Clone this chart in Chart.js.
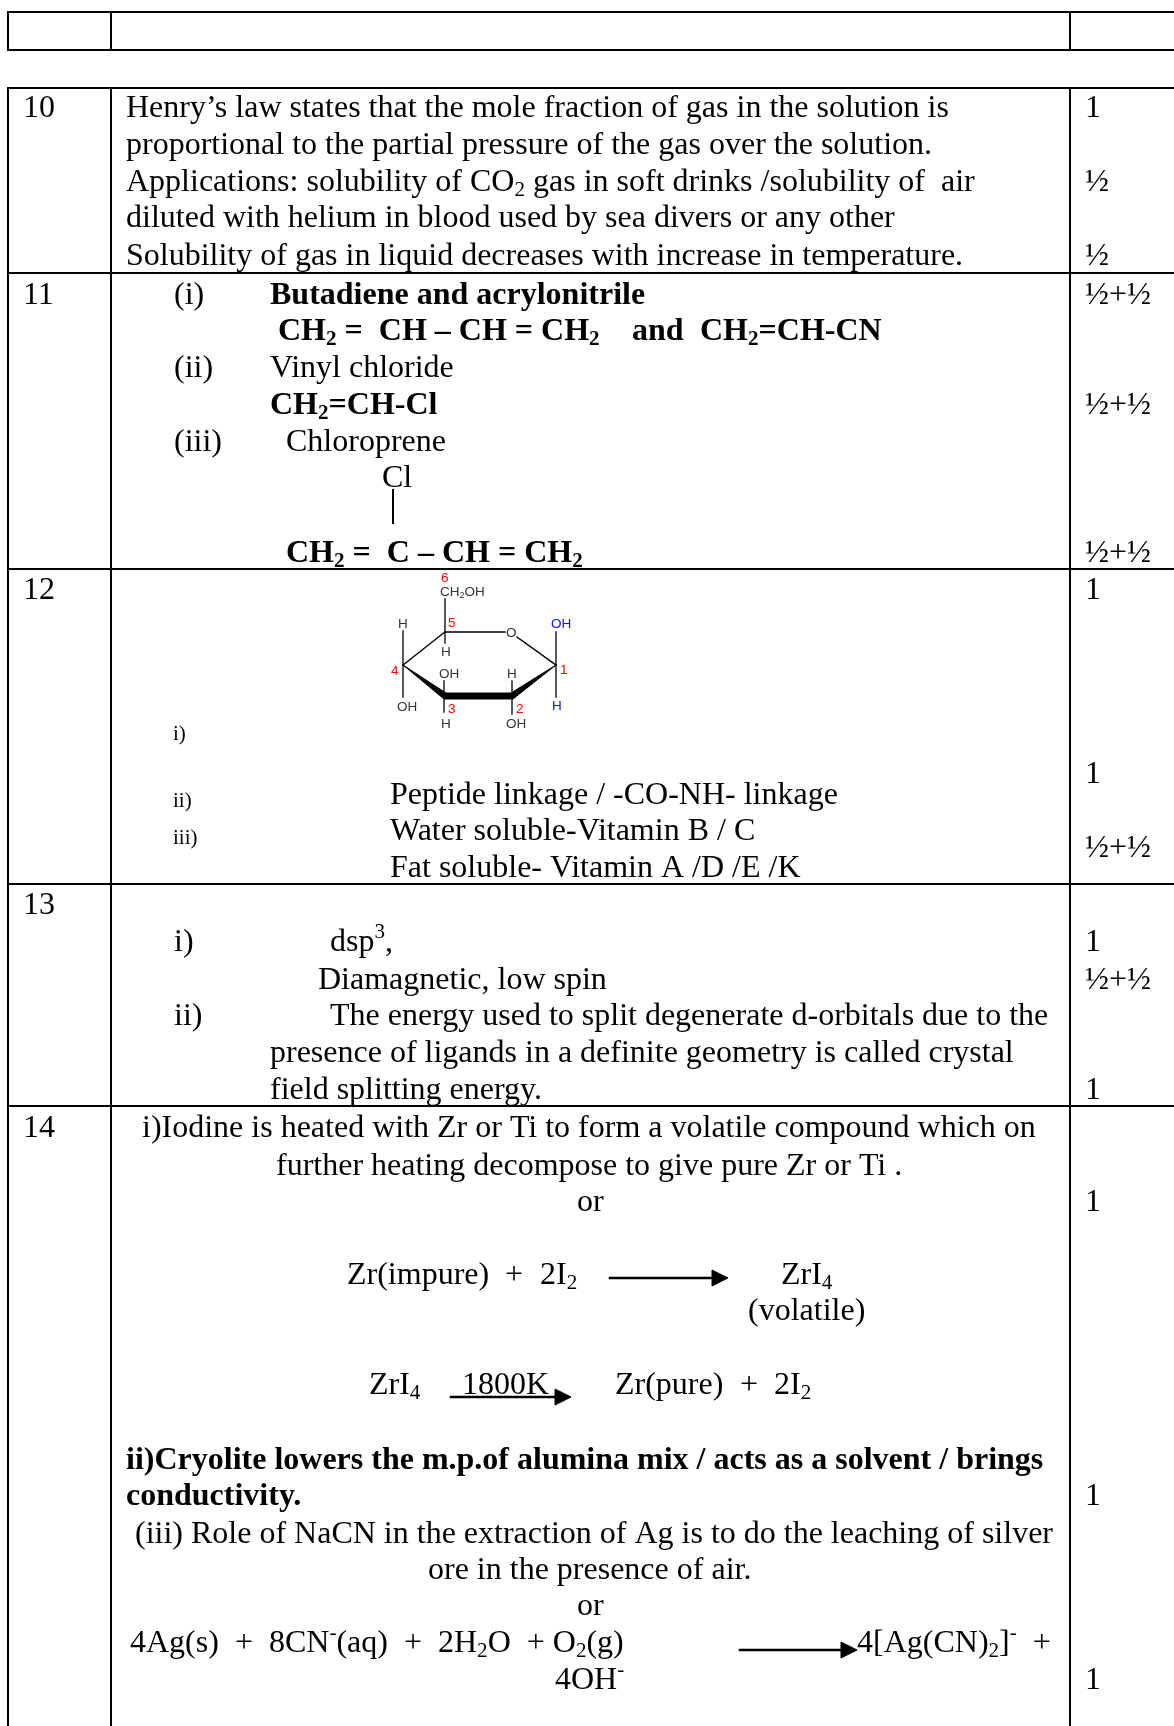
<!DOCTYPE html>
<html>
<head>
<meta charset="utf-8">
<title>Marking scheme page</title>
<script src="https://cdn.jsdelivr.net/npm/chart.js@4/dist/chart.umd.min.js"></script>
<style>
html, body { margin: 0; padding: 0; background: #fff; }
canvas { display: block; }
</style>
</head>
<body>
<canvas id="page" width="1174" height="1726"></canvas>
<script>
// the "axes" are just the page itself, 0-1174 across and 0-1726 down
const pageW = 1174;
const pageH = 1726;

// table rules: [x1, y1, x2, y2]
const ruleX1 = [8, 8, 8, 111, 1070, 8, 8, 8, 111, 1070, 8, 8, 8];
const ruleY1 = [12, 50, 12, 12, 12, 88, 273, 88, 88, 88, 569, 884, 1106];
const ruleX2 = [1174, 1174, 8, 111, 1070, 1174, 1174, 8, 111, 1070, 1174, 1174, 1174];
const ruleY2 = [12, 50, 50, 50, 50, 88, 273, 1726, 1726, 1726, 569, 884, 1106];

// regular text
const plainText = [
  "10", "Henry’s law states that the mole fraction of gas in the solution is",
  "proportional to the partial pressure of the gas over the solution.",
  "Applications: solubility of CO_{2} gas in soft drinks /solubility of  air",
  "diluted with helium in blood used by sea divers or any other",
  "Solubility of gas in liquid decreases with increase in temperature.",
  "1", "½", "½",
  "11", "(i)", "(ii)", "Vinyl chloride", "(iii)", "Chloroprene", "Cl", "½+½", "½+½", "½+½",
  "12", "1", "Peptide linkage / -CO-NH- linkage", "Water soluble-Vitamin B / C",
  "Fat soluble- Vitamin A /D /E /K", "1", "½+½",
  "13", "i)", "dsp^{3},", "Diamagnetic, low spin", "ii)",
  "The energy used to split degenerate d-orbitals due to the",
  "presence of ligands in a definite geometry is called crystal",
  "field splitting energy.", "1", "½+½", "1",
  "14", "i)Iodine is heated with Zr or Ti to form a volatile compound which on",
  "further heating decompose to give pure Zr or Ti .", "or", "1",
  "Zr(impure)", "+", "2I_{2}", "ZrI_{4}", "(volatile)",
  "ZrI_{4}", "1800K", "Zr(pure)", "+", "2I_{2}",
  "(iii) Role of NaCN in the extraction of Ag is to do the leaching of silver",
  "ore in the presence of air.", "or",
  "4Ag(s)  +  8CN^{-}(aq)  +  2H_{2}O  + O_{2}(g)", "4[Ag(CN)_{2}]^{-}  +", "4OH^{-}", "1", "1"
];
const plainX = [
  23, 126, 126, 126, 126, 126,
  1085, 1085, 1085,
  23, 174, 174, 270, 174, 286, 382, 1085, 1085, 1085,
  23, 1085, 390, 390, 390, 1085, 1085,
  23, 174, 330, 318, 174, 330, 270, 270, 1085, 1085, 1085,
  23, 142, 276, 577, 1085,
  347, 505, 540, 781, 748,
  369, 462, 615, 740, 774,
  135, 428, 577,
  130, 857, 555, 1085, 1085
];
const plainY = [
  117, 117, 154, 191, 227, 265,
  117, 191, 265,
  304, 304, 377, 377, 451, 451, 487, 304, 414, 562,
  599, 599, 804, 840, 877, 783, 857,
  914, 951, 951, 989, 1025, 1025, 1062, 1099, 951, 989, 1099,
  1137, 1137, 1175, 1211, 1211,
  1284, 1284, 1284, 1284, 1320,
  1394, 1394, 1394, 1394, 1394,
  1543, 1579, 1615,
  1652, 1652, 1689, 1505, 1689
];

// bold text
const boldText = [
  "Butadiene and acrylonitrile", "CH_{2} =  CH – CH = CH_{2}", "and", "CH_{2}=CH-CN",
  "CH_{2}=CH-Cl", "CH_{2} =  C – CH = CH_{2}",
  "ii)Cryolite lowers the m.p.of alumina mix / acts as a solvent / brings", "conductivity."
];
const boldX = [270, 278, 632, 700, 270, 286, 126, 126];
const boldY = [304, 340, 340, 340, 414, 562, 1469, 1505];

// the small row markers next to the sugar ring
const smallText = ["i)", "ii)", "iii)"];
const smallX = [173, 173, 173];
const smallY = [740, 807, 844];

// sugar ring labels
const ringGrey = ["CH_{2}OH", "H", "O", "H", "OH", "H", "OH", "H", "OH"];
const ringGreyX = [440, 398, 506, 441, 439, 507, 397, 441, 506];
const ringGreyY = [596, 628, 637, 656, 678, 678, 711, 728, 728];
const ringRed = ["6", "5", "4", "1", "3", "2"];
const ringRedX = [441, 448, 391, 560, 448, 516];
const ringRedY = [582, 627, 675, 674, 713, 713];
const ringBlue = ["OH", "H"];
const ringBlueX = [551, 552];
const ringBlueY = [628, 710];

// ring bonds
const bondX1 = [445, 445, 403, 445, 517, 445, 403, 403, 444, 444, 512, 512, 556, 556];
const bondY1 = [632, 599, 665, 632, 637, 632, 665, 665, 696, 696, 696, 696, 665, 665];
const bondX2 = [445, 445, 445, 505, 556, 445, 403, 403, 444, 444, 512, 512, 556, 556];
const bondY2 = [632, 632, 632, 632, 665, 643, 631, 697, 681, 712, 681, 714, 632, 697];

// front edge of the ring, the thick wedge
const wedgeX = [403, 446, 511, 556, 513, 444];
const wedgeY = [665, 693, 693, 665, 699, 699];

// stem of the Cl branch
const stemX = [393, 393];
const stemY = [490, 523];

// reaction arrows: shaft start, shaft end, head base, height
const arrowFrom = [610, 451, 740];
const arrowTo = [728, 571, 857];
const arrowBase = [712, 555, 841];
const arrowLevel = [1278, 1397, 1650];

function pts(xs, ys) {
  return xs.map(function (x, i) { return { x: x, y: ys[i] }; });
}

function lineSet(points, width) {
  return {
    data: points, showLine: true, pointRadius: 0, borderColor: '#000',
    borderWidth: width, tension: 0, fill: false, borderCapStyle: 'square'
  };
}

function shapeSet(points) {
  return {
    data: points.concat(points[0]), showLine: true, pointRadius: 0, borderColor: '#000',
    backgroundColor: '#000', borderWidth: 1, tension: 0, fill: 'shape'
  };
}

var datasets = [];
ruleX1.forEach(function (x, i) {
  datasets.push(lineSet([{ x: x, y: ruleY1[i] }, { x: ruleX2[i], y: ruleY2[i] }], 2));
});
bondX1.forEach(function (x, i) {
  datasets.push(lineSet([{ x: x, y: bondY1[i] }, { x: bondX2[i], y: bondY2[i] }], 1.3));
});
datasets.push(lineSet(pts(stemX, stemY), 2));
datasets.push(shapeSet(pts(wedgeX, wedgeY)));
arrowFrom.forEach(function (x, i) {
  var y = arrowLevel[i];
  datasets.push(lineSet([{ x: x, y: y }, { x: arrowBase[i], y: y }], 2.5));
  datasets.push(shapeSet([{ x: arrowBase[i], y: y - 8 }, { x: arrowTo[i], y: y }, { x: arrowBase[i], y: y + 8 }]));
});

// writes one line, handling _{sub} and ^{sup}
function drawRich(ctx, str, px, py, size, face, weight, color) {
  var parts = str.split(/([_^]\{[^}]*\})/);
  var cx = px;
  ctx.fillStyle = color;
  ctx.textBaseline = 'alphabetic';
  parts.forEach(function (part) {
    if (!part) return;
    var s = size, dy = 0, t = part;
    if (part[0] === '_' && part[1] === '{') {
      t = part.slice(2, -1); s = size * 0.66; dy = size * 0.16;
    } else if (part[0] === '^' && part[1] === '{') {
      t = part.slice(2, -1); s = size * 0.66; dy = -size * 0.4;
    }
    ctx.font = weight + ' ' + s + 'px ' + face;
    ctx.fillText(t, cx, py + dy);
    cx += ctx.measureText(t).width;
  });
}

const serif = '"Liberation Serif"';
const sans = '"Liberation Sans"';

const pageText = {
  id: 'pageText',
  afterDatasetsDraw: function (chart) {
    var ctx = chart.ctx;
    var sx = chart.scales.x, sy = chart.scales.y;
    function group(texts, xs, ys, size, face, weight, color) {
      texts.forEach(function (t, i) {
        drawRich(ctx, t, sx.getPixelForValue(xs[i]), sy.getPixelForValue(ys[i]), size, face, weight, color);
      });
    }
    ctx.save();
    group(plainText, plainX, plainY, 32, serif, 'normal', '#000');
    group(boldText, boldX, boldY, 32, serif, 'bold', '#000');
    group(smallText, smallX, smallY, 21, serif, 'normal', '#000');
    group(ringGrey, ringGreyX, ringGreyY, 13.5, sans, 'normal', '#333');
    group(ringRed, ringRedX, ringRedY, 13.5, sans, 'normal', '#f00');
    group(ringBlue, ringBlueX, ringBlueY, 13.5, sans, 'normal', '#11f');
    ctx.restore();
  }
};

new Chart(document.getElementById('page'), {
  type: 'scatter',
  data: { datasets: datasets },
  plugins: [pageText],
  options: {
    responsive: false,
    animation: false,
    layout: { padding: 0 },
    plugins: { legend: { display: false }, tooltip: { enabled: false } },
    scales: {
      x: { type: 'linear', min: 0, max: pageW, display: false },
      y: { type: 'linear', min: 0, max: pageH, reverse: true, display: false }
    }
  }
});
</script>
</body>
</html>
